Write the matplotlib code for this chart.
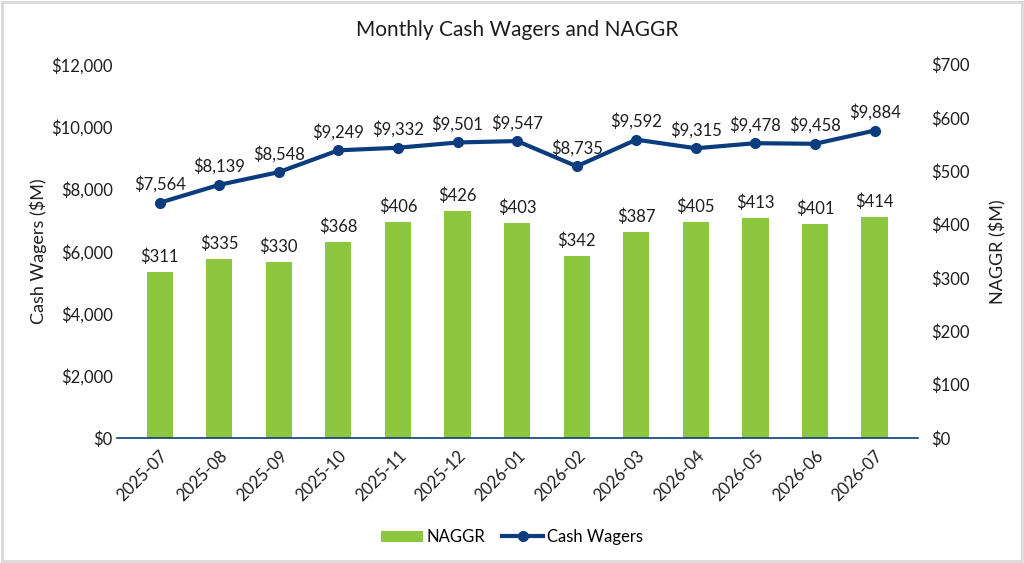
import matplotlib.pyplot as plt
from matplotlib.patches import Rectangle
from matplotlib.ticker import FuncFormatter

plt.rcParams['font.family'] = ['Lato', 'DejaVu Sans']

# chart data
months = ["2025-07", "2025-08", "2025-09", "2025-10", "2025-11", "2025-12", "2026-01",
          "2026-02", "2026-03", "2026-04", "2026-05", "2026-06", "2026-07"]
naggr = [311, 335, 330, 368, 406, 426, 403, 342, 387, 405, 413, 401, 414]
cash_wagers = [7564, 8139, 8548, 9249, 9332, 9501, 9547, 8735, 9592, 9315, 9478, 9458, 9884]

green = "#8DC63F"
navy = "#0B3C7D"
txt = "#1E1E1E"

fig = plt.figure(figsize=(10.24, 5.63), dpi=100)
ax = fig.add_axes([0.114, 0.222, 0.782, 0.663])
ax2 = ax.twinx()

x = list(range(len(months)))

# bars on right axis, line on left axis
bars = ax2.bar(x, naggr, width=0.44, color=green, zorder=2, label="NAGGR")
ax2.set_ylim(0, 700)
ax2.set_yticks(range(0, 701, 100))
ax2.yaxis.set_major_formatter(FuncFormatter(lambda v, p: f"${v:,.0f}"))
for xi, v in zip(x, naggr):
    ax2.annotate(f"${v}", (xi, v), xytext=(0, 5), textcoords="offset points",
                 ha="center", va="bottom", fontsize=12, color=txt)

ax.set_zorder(ax2.get_zorder() + 1)
ax.patch.set_visible(False)
line, = ax.plot(x, cash_wagers, color=navy, lw=3, marker="o", ms=7, label="Cash Wagers")
ax.set_ylim(0, 12000)
ax.set_yticks(range(0, 12001, 2000))
ax.yaxis.set_major_formatter(FuncFormatter(lambda v, p: f"${v:,.0f}"))
for xi, v in zip(x, cash_wagers):
    ax.annotate(f"${v:,}", (xi, v), xytext=(0, 7), textcoords="offset points",
                ha="center", va="bottom", fontsize=12, color=txt)

ax.set_xlim(-0.72, len(months) - 0.28)
ax.set_xticks(x)
ax.set_xticklabels(months, rotation=45, ha="right", rotation_mode="anchor", fontsize=12, color=txt)
ax.tick_params(axis="x", length=0, pad=7)
ax.tick_params(axis="y", length=0, labelsize=12, pad=3, labelcolor=txt)
ax2.tick_params(axis="y", length=0, labelsize=12, pad=10, labelcolor=txt)

for a in (ax, ax2):
    for s in a.spines.values():
        s.set_visible(False)
ax.spines["bottom"].set_visible(True)
ax.spines["bottom"].set_color(navy)
ax.spines["bottom"].set_linewidth(1.2)

ax.set_ylabel("Cash Wagers ($M)", fontsize=13, labelpad=3, color=txt)
ax2.set_ylabel("NAGGR ($M)", fontsize=13, labelpad=14, color=txt)
ax.set_title("Monthly Cash Wagers and NAGGR", fontsize=15, pad=21, color=txt)

fig.legend([bars, line], ["NAGGR", "Cash Wagers"], loc="lower center",
           bbox_to_anchor=(0.5, 0.005), ncol=2, frameon=False, fontsize=12,
           handlelength=2.5, handletextpad=0.2, columnspacing=1.0)

fig.patches.append(Rectangle((0.002, 0.003), 0.996, 0.994, transform=fig.transFigure,
                             fill=False, edgecolor="#D9D9D9", lw=2))

fig.savefig("out.png", dpi=100)
